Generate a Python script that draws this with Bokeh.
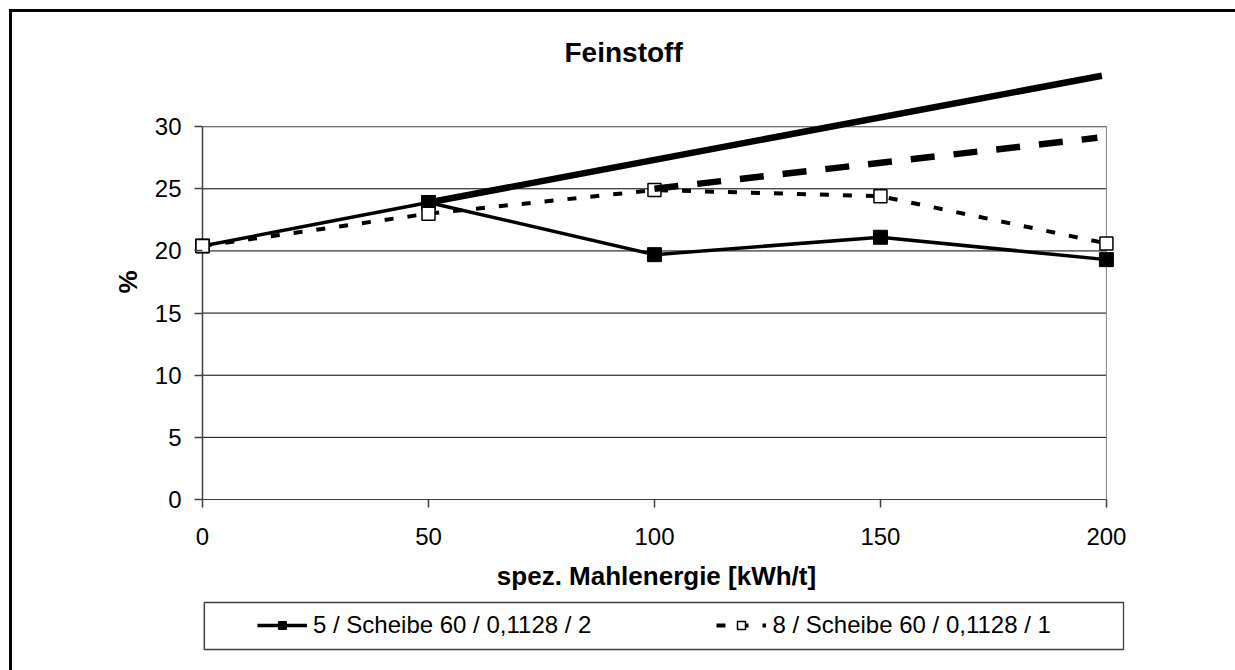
from bokeh.plotting import figure
from bokeh.models import Range1d, FixedTicker, Legend, LegendItem, GlobalInlineStyleSheet
from bokeh.layouts import column
from bokeh.embed import file_html
from bokeh.resources import INLINE

# ---------------- data ----------------
title_text = "Feinstoff"
x_label = "spez. Mahlenergie [kWh/t]"
y_label = "%"
energy = [0, 50, 100, 150, 200]
s1_name = "5 / Scheibe 60 / 0,1128 / 2"
s1_vals = [20.4, 23.9, 19.7, 21.1, 19.3]
s2_name = "8 / Scheibe 60 / 0,1128 / 1"
s2_vals = [20.4, 23.0, 24.9, 24.4, 20.6]
trend_solid_x = [50, 199]
trend_solid_y = [23.9, 34.1]
trend_dash_x = [100, 198]
trend_dash_y = [25.0, 29.1]
x_ticks = [0, 50, 100, 150, 200]
y_ticks = [0, 5, 10, 15, 20, 25, 30]

FONT = "Liberation Sans"
W = 1222
BL, BR = 176, 110          # frame borders shared by both canvases

# ---------------- main figure ----------------
p = figure(width=W, height=585, output_backend="svg", toolbar_location=None,
           x_range=Range1d(-3.1, 204.0), y_range=Range1d(0, 35),
           min_border_left=BL, min_border_right=BR,
           min_border_top=52, min_border_bottom=98)
p.outline_line_color = None
p.xgrid.visible = False
p.ygrid.visible = False
p.background_fill_color = "white"
p.border_fill_color = "white"

# title
p.title.text = title_text
p.title.align = "left"
p.title.offset = 376
p.title.standoff = -6
p.title.text_font = FONT
p.title.text_font_size = "28px"
p.title.text_font_style = "bold"
p.title.text_color = "black"

# gridlines and plot-area border
p.segment(x0=[x_ticks[0]] * len(y_ticks), x1=[x_ticks[-1]] * len(y_ticks),
          y0=y_ticks, y1=y_ticks, line_color="black", line_width=1)
p.quad(left=x_ticks[0], right=x_ticks[-1], bottom=y_ticks[0], top=y_ticks[-1],
       fill_alpha=0, line_color="#808080", line_width=1)
p.segment(x0=[x_ticks[0]], x1=[x_ticks[0]], y0=[y_ticks[0]], y1=[y_ticks[-1]],
          line_color="#404040", line_width=1.5)

# axes
for ax in (p.xaxis[0], p.yaxis[0]):
    ax.major_label_text_font = FONT
    ax.major_label_text_font_size = "24px"
    ax.major_label_text_color = "black"
    ax.axis_label_text_font = FONT
    ax.axis_label_text_font_size = "26px"
    ax.axis_label_text_font_style = "bold"
    ax.axis_label_text_color = "black"
    ax.major_tick_line_color = "#404040"
    ax.major_tick_line_width = 1.5

p.xaxis.ticker = FixedTicker(ticks=x_ticks)
p.xaxis.bounds = (x_ticks[0], x_ticks[-1])
p.xaxis.axis_label = x_label
p.xaxis.axis_line_color = "#404040"
p.xaxis.major_tick_in = 0
p.xaxis.major_tick_out = 8
p.xaxis.minor_tick_in = 0
p.xaxis.minor_tick_out = 0
p.xaxis.major_label_standoff = 20
p.xaxis.axis_label_standoff = 13

# y axis sits at the frame edge; its ticks reach in to the x=0 line
p.yaxis.ticker = FixedTicker(ticks=y_ticks)
p.yaxis.axis_line_color = None
p.yaxis.major_tick_in = 14
p.yaxis.major_tick_out = -6
p.yaxis.minor_tick_in = 0
p.yaxis.minor_tick_out = -6
p.yaxis.axis_label = y_label
p.yaxis.major_label_standoff = 7
p.yaxis.axis_label_standoff = 9

# series
p.line(energy, s1_vals, line_color="black", line_width=3.5)
p.scatter(energy, s1_vals, marker="square", size=14, fill_color="black", line_color="black")
p.line(energy, s2_vals, line_color="black", line_width=4, line_dash="9 14")
p.scatter(energy, s2_vals, marker="square", size=13, fill_color="white",
          line_color="black", line_width=1.5)

# thick trend lines
p.line(trend_solid_x, trend_solid_y, line_color="black", line_width=6.5, line_cap="butt")
p.line(trend_dash_x, trend_dash_y, line_color="black", line_width=6.5, line_dash="24 19",
       line_cap="butt")

# ---------------- legend strip (same frame edges as the chart) ----------------
p2 = figure(width=W, height=63, output_backend="svg", toolbar_location=None,
            x_range=p.x_range, y_range=Range1d(0, 1),
            x_axis_type=None, y_axis_type=None,
            min_border_left=BL, min_border_right=BR,
            min_border_top=3, min_border_bottom=9)
p2.outline_line_color = None
p2.background_fill_color = "white"
p2.border_fill_color = "white"

# legend box
p2.quad(left=0.4, right=203.8, bottom=0.04, top=0.96,
        fill_color="white", line_color="#404040", line_width=1.5)

# legend renderers: same series, hidden (only their legend glyphs are drawn)
l1 = p2.line(energy, s1_vals, line_color="black", line_width=3.5, visible=False)
m1 = p2.scatter(energy, s1_vals, marker="square", size=14, fill_color="black",
                line_color="black", visible=False)
l2 = p2.line(energy, s2_vals, line_color="black", line_width=4, line_dash="9 14",
             visible=False)
m2 = p2.scatter(energy, s2_vals, marker="square", size=13, fill_color="white",
                line_color="black", line_width=1.5, visible=False)

legend = Legend(items=[LegendItem(label=s1_name, renderers=[l1, m1]),
                       LegendItem(label=s2_name, renderers=[l2, m2])],
                orientation="horizontal", location=(59, 2),
                border_line_alpha=0, background_fill_alpha=0,
                padding=10, spacing=125, glyph_width=50, glyph_height=20,
                label_standoff=6, margin=0,
                label_text_font=FONT, label_text_font_size="24px",
                label_text_color="black")
p2.add_layout(legend)

layout = column(p, p2, spacing=0)
layout.margin = (12, 0, 0, 12)
# outer chart-area frame: only its left and top edges fall inside the window
layout.stylesheets = [GlobalInlineStyleSheet(css=(
    "body::before { content: ''; position: fixed; left: 9px; top: 9px; "
    "width: 3000px; height: 3000px; border-left: 3px solid black; "
    "border-top: 3px solid black; pointer-events: none; z-index: 10; }"))]

open("out.html", "w").write(file_html(layout, INLINE))
